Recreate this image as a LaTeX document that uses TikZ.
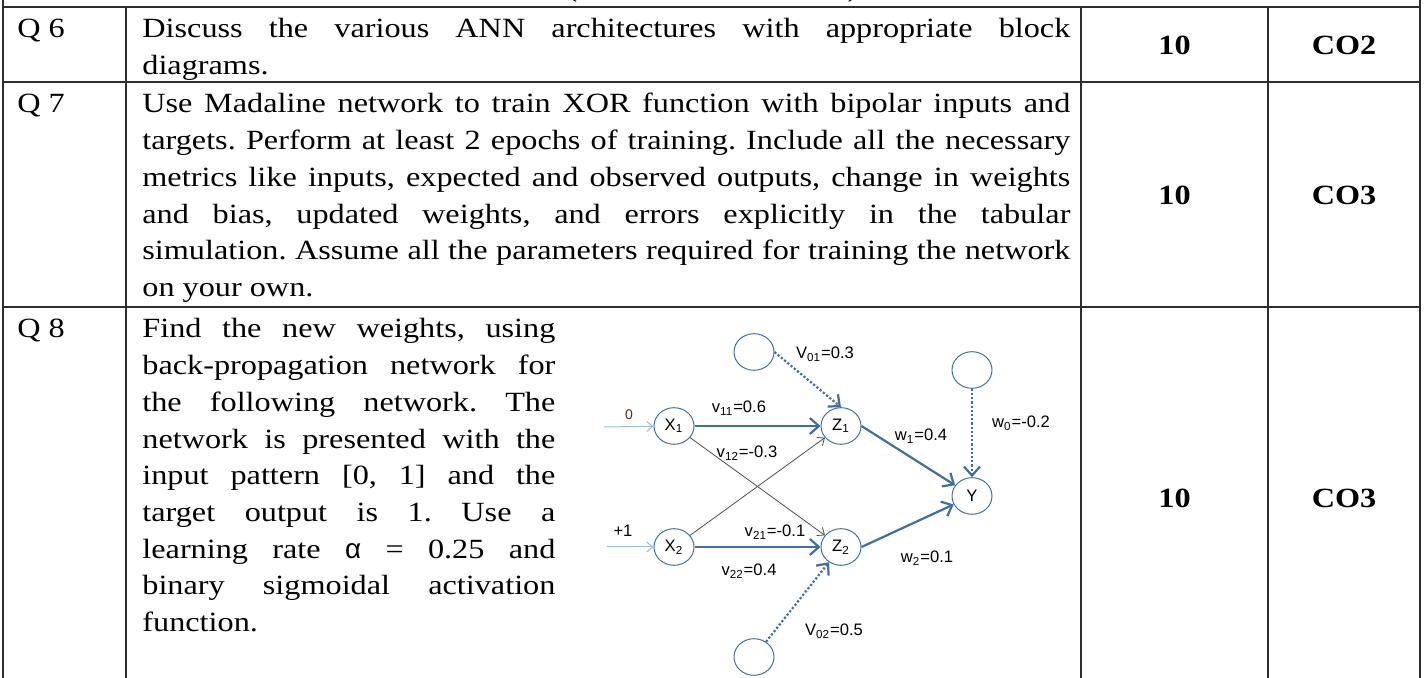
\documentclass[tikz,border=0pt]{standalone}
\usepackage{fontspec}
\setmainfont[FakeStretch=1.16]{Liberation Serif}
\newfontfamily\arialfont{Liberation Sans}
\usetikzlibrary{positioning,arrows.meta,shapes.geometric}
\setlength{\parindent}{0pt}
\hyphenpenalty=10000
\frenchspacing

\definecolor{nodeblue}{RGB}{65,113,156}
\definecolor{linkblue}{RGB}{64,110,160}
\definecolor{inblue}{RGB}{150,190,225}
\definecolor{rulegray}{RGB}{45,45,45}
\definecolor{zerored}{RGB}{115,30,30}

\tikzset{
	rule/.style={rulegray, line width=0.6pt},
	qtext/.style={anchor=base west, inner sep=0pt, align=justify,
		font=\fontsize{13.9}{18.35}\selectfont},
	qno/.style={anchor=base west, inner sep=0pt, font=\fontsize{13.9}{18.35}\selectfont},
	markcell/.style={inner sep=0pt, font=\fontsize{13.9}{18.35}\selectfont\bfseries},
	neuron/.style={ellipse, draw=nodeblue, line width=0.5pt, minimum width=20pt,
		minimum height=18.3pt, inner sep=0pt, font=\arialfont\fontsize{8.3}{10}\selectfont},
	wlabel/.style={inner sep=0pt, font=\arialfont\fontsize{8.3}{10}\selectfont},
	inarrow/.style={inblue, line width=0.5pt, -{Straight Barb[length=3pt,width=5pt]}},
	wlink/.style={linkblue, line width=1.1pt, -{Straight Barb[length=4.5pt,width=8pt]}},
	xlink/.style={black!70, line width=0.4pt, -{Straight Barb[length=3pt,width=5pt]}},
	blink/.style={linkblue, line width=1.1pt, densely dotted, -{Straight Barb[length=4.5pt,width=8pt]}}
}

\begin{document}
\begin{tikzpicture}[x=0.5pt,y=-0.5pt]
	\useasboundingbox (0,0) rectangle (1426,678);

	% rahmen der tabelle
	\draw[rule] (3,0) -- (3,678);
	\draw[rule] (1420,0) -- (1420,678);
	\draw[rule] (3,7) -- (1420,7);
	\foreach \x in {126,1081,1268} { \draw[rule] (\x,7) -- (\x,678); }
	\foreach \y in {82,307} { \draw[rule] (3,\y) -- (1420,\y); }

	% reste der zeile darueber
	\node[qno, anchor=base] at (572,-3) {(};
	\node[qno, anchor=base] at (853,-3) {)};

	% fragen
	\node[qno] at (17,38) {Q 6};
	\node[qno] at (17,113) {Q 7};
	\node[qno] at (17,338) {Q 8};

	\node[qtext, text width=464pt] (q6) at (142,38)
		{Discuss the various ANN architectures with appropriate block\linebreak diagrams.};
	\node[qtext, text width=464pt] (q7) at (142,113)
		{Use Madaline network to train XOR function with bipolar inputs and\linebreak
		targets. Perform at least 2 epochs of training. Include all the necessary\linebreak
		metrics like inputs, expected and observed outputs, change in weights\linebreak
		and bias, updated weights, and errors explicitly in the tabular\linebreak
		simulation. Assume all the parameters required for training the network\linebreak
		on your own.};
	\node[qtext, text width=206.5pt] (q8) at (142,338)
		{Find the new weights, using\linebreak
		back-propagation network for\linebreak
		the following network. The\linebreak
		network is presented with the\linebreak
		input pattern [0, 1] and the\linebreak
		target output is 1. Use a\linebreak
		learning rate {\arialfont α} = 0.25 and\linebreak
		binary sigmoidal activation\linebreak
		function.};

	% marks und CO
	\node[markcell] at (1174.5,45) {10};
	\node[markcell] at (1344,45) {CO2};
	\node[markcell] at (1174.5,195) {10};
	\node[markcell] at (1344,195) {CO3};
	\node[markcell] at (1174.5,498) {10};
	\node[markcell] at (1344,498) {CO3};

	% netz
	\node[neuron] (x1) at (674,426) {X\textsubscript{1}};
	\node[neuron] (x2) at (674,547) {X\textsubscript{2}};
	\node[neuron] (z1) at (841,426) {Z\textsubscript{1}};
	\node[neuron] (z2) at (841,547) {Z\textsubscript{2}};
	\node[neuron] (y) at (972,496) {Y};
	\node[neuron] (b1) at (754,352) {};
	\node[neuron] (b2) at (754,657) {};
	\node[neuron] (b0) at (972,370) {};
	\coordinate (in1) at (604,427);
	\coordinate (in2) at (607,547);

	\draw[inarrow] (in1) -- (x1);
	\draw[inarrow] (in2) -- (x2);
	\draw[xlink] (x1) -- (z2);
	\draw[xlink] (x2) -- (z1);
	\draw[wlink] (x1) -- (z1);
	\draw[wlink] (x2) -- (z2);
	\draw[wlink] (z1.east) -- (y);
	\draw[wlink] (z2.east) -- (y);
	\draw[blink] (b1.east) -- (z1.north);
	\draw[blink] (b2) -- (z2);
	\draw[blink] (b0) -- (y);

	% gewichte
	\node[wlabel, text=zerored, font=\arialfont\fontsize{7}{8}\selectfont] at (629,415) {0};
	\node[wlabel] at (623,531) {+1};
	\node[wlabel] at (739,408) {v\textsubscript{11}=0.6};
	\node[wlabel] at (747,453) {v\textsubscript{12}=-0.3};
	\node[wlabel] at (775,532) {v\textsubscript{21}=-0.1};
	\node[wlabel] at (749,571) {v\textsubscript{22}=0.4};
	\node[wlabel] at (921,436) {w\textsubscript{1}=0.4};
	\node[wlabel] at (927,558) {w\textsubscript{2}=0.1};
	\node[wlabel] at (825,354) {V\textsubscript{01}=0.3};
	\node[wlabel] at (1021,423) {w\textsubscript{0}=-0.2};
	\node[wlabel] at (834,631) {V\textsubscript{02}=0.5};
\end{tikzpicture}
\end{document}
